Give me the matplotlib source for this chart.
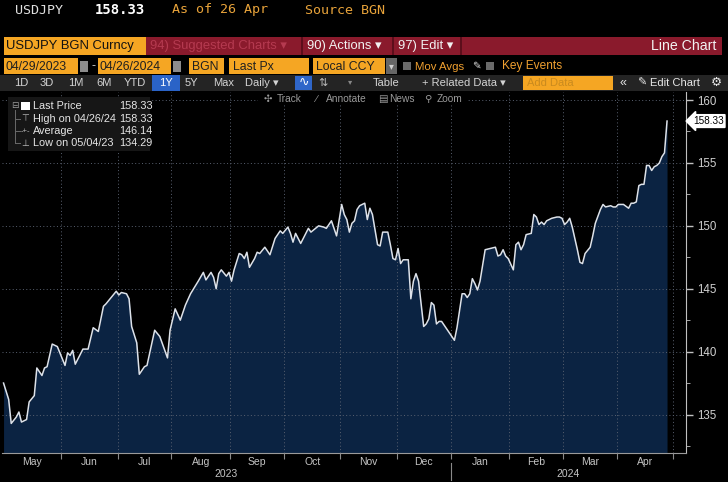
import numpy as np
import pandas as pd
import matplotlib
matplotlib.use('Agg')
import matplotlib.pyplot as plt
import matplotlib.transforms as mtransforms
from matplotlib.patches import Rectangle
from matplotlib.ticker import MultipleLocator

# USDJPY daily close (index = weekday number from 2023-05-01)
day_idx = [0, 2, 3, 5, 6, 7, 9, 10, 12, 13, 15, 16, 17, 19, 21,
           24, 25, 26, 27, 28, 31, 33, 35, 37, 39, 40, 44, 45,
           46, 48, 49, 50, 52, 53, 55, 56, 59, 61, 64, 65, 67,
           69, 71, 73, 76, 78, 79, 81, 82, 83, 84, 85, 87, 88, 89, 90,
           92, 93, 94, 95, 96, 98, 99, 100, 102, 104, 106, 108, 109,
           111, 112, 113, 114, 116, 119, 120, 123, 125, 126, 128, 130, 132, 133, 134,
           135, 136, 137, 138, 139, 141, 142, 143, 144, 146, 147, 148, 150, 151, 152,
           153, 154, 155, 156, 158, 159, 160, 161, 162, 164, 165, 166, 167, 168,
           169, 170, 171, 173, 176, 177, 179, 180, 181, 182, 183, 184, 185, 186,
           188, 190, 192, 193, 194, 195, 196, 197, 199, 200, 201, 202, 203,
           204, 206, 207, 208, 209, 210, 211, 212, 214, 216, 217, 218, 219, 220, 221, 222,
           224, 225, 226, 227, 229, 230, 231, 233, 234, 235, 237, 238, 239, 240,
           242, 244, 245, 246, 247, 248, 249, 250, 251, 252, 253, 254, 255, 256, 257, 258, 259]
prices = [137.5, 136.2, 134.29, 134.8, 135.2, 134.4, 134.6, 136.0, 136.5, 138.7, 138.1, 138.7, 138.8, 140.6, 140.4,
          138.9, 139.9, 139.7, 140.1, 139.0, 140.2, 140.2, 141.9, 141.6, 143.6, 143.8, 144.8, 144.5,
          144.7, 144.6, 144.2, 142.0, 140.7, 138.2, 138.8, 138.9, 141.7, 141.2, 139.5, 141.7, 143.4,
          142.5, 143.7, 144.6, 145.6, 146.3, 145.7, 146.3, 145.9, 145.0, 146.2, 146.5, 146.0, 146.3, 145.6, 146.5,
          147.8, 147.7, 147.4, 147.9, 146.7, 147.4, 147.9, 147.8, 148.3, 147.7, 149.0, 149.6, 149.4,
          149.9, 149.4, 148.7, 149.4, 148.6, 149.8, 149.5, 150.0, 149.9, 149.8, 150.4, 149.2, 151.7, 150.9, 150.5,
          149.5, 150.2, 150.4, 151.3, 151.6, 151.8, 150.5, 151.4, 150.9, 148.5, 148.4, 149.5, 149.5, 148.5, 147.4,
          147.3, 148.2, 147.0, 147.3, 147.3, 144.2, 145.6, 146.2, 145.6, 142.0, 142.2, 142.6, 143.9, 143.7,
          142.2, 142.4, 142.4, 141.8, 140.9, 141.9, 144.6, 144.6, 144.3, 144.6, 145.8, 145.4, 144.9, 145.6,
          148.1, 148.2, 148.3, 147.6, 147.7, 148.1, 147.6, 147.4, 146.5, 148.5, 148.7, 148.1, 148.5,
          149.3, 149.4, 150.9, 150.7, 150.1, 150.3, 150.1, 150.4, 150.6, 150.7, 150.7, 150.6, 150.1, 150.3, 150.6, 149.9,
          148.1, 147.1, 147.0, 147.8, 148.3, 149.2, 150.2, 151.3, 151.7, 151.5, 151.6, 151.5, 151.5, 151.7,
          151.7, 151.4, 151.8, 151.8, 151.9, 153.2, 153.3, 153.3, 154.8, 154.8, 154.4, 154.7, 154.8, 155.0, 155.5, 155.8, 158.33]
avg_price = 146.14
month_names = ['May', 'Jun', 'Jul', 'Aug', 'Sep', 'Oct', 'Nov', 'Dec', 'Jan', 'Feb', 'Mar', 'Apr']
years = ['2023', '2024']

bdays = pd.bdate_range('2023-05-01', '2024-05-31')
day_idx = np.array(day_idx)
prices = np.array(prices)
last = prices[-1]
last_date = bdays[day_idx[-1]]
hi_date = bdays[day_idx[np.argmax(prices)]]
lo_date = bdays[day_idx[np.argmin(prices)]]

# first weekday of each month -> boundary index
month_starts = pd.date_range('2023-05-01', '2024-05-01', freq='MS')
bounds = np.searchsorted(bdays, month_starts) - 0.5

ORANGE = '#f5a623'
UI = ['Liberation Sans', 'DejaVu Sans']
MONO = ['DejaVu Sans Mono']
W, H = 728, 482

fig = plt.figure(figsize=(W / 100, H / 100), dpi=100, facecolor='black')
ax = fig.add_axes([2 / W, (H - 453) / H, 684 / W, 361 / H], facecolor='black')

ybot = 131.94
ax.fill_between(day_idx, prices, ybot, color='#0b2342', lw=0, zorder=1)
ax.plot(day_idx, prices, color='#dde2ea', lw=1.1, zorder=3)
ax.set_xlim(-0.6, 266.4)
ax.set_ylim(ybot, 160.64)

ax.yaxis.tick_right()
ax.set_yticks(np.arange(135, 161, 5))
ax.yaxis.set_minor_locator(MultipleLocator(2.5))
ax.set_xticks(bounds[1:])
ax.set_xticklabels([])
centers = (bounds[:-1] + bounds[1:]) / 2
ax.set_xticks(centers, minor=True)
ax.set_xticklabels(month_names, minor=True)
ax.tick_params(axis='x', which='major', length=4, color='#8a8a8a', direction='out')
ax.tick_params(axis='x', which='minor', length=0, pad=3, labelsize=7.5, labelcolor='#c4c4c4')
ax.tick_params(axis='y', which='major', length=5, width=1, color='#c0c0c0', pad=3,
               labelsize=8.3, labelcolor='#d0d0d0')
ax.tick_params(axis='y', which='minor', length=3, color='#c0c0c0')
for lab in ax.get_xticklabels(minor=True) + ax.get_yticklabels():
    lab.set_family(UI)

ax.set_axisbelow(False)
ax.grid(True, which='major', color='#596170', lw=0.7, ls=(0, (1, 2.5)))
for side in ['left', 'top']:
    ax.spines[side].set_visible(False)
ax.spines['right'].set_color('#c0c0c0')
ax.spines['bottom'].set_color('#9a9a9a')

# year labels and separator under the month row
bt = mtransforms.blended_transform_factory(ax.transData, ax.transAxes)
jan = bounds[8]
ax.text((bounds[0] + jan) / 2, -0.058, years[0], transform=bt, ha='center', va='center',
        fontsize=7.5, color='#c4c4c4', family=UI)
ax.text((jan + ax.get_xlim()[1]) / 2, -0.058, years[1], transform=bt, ha='center', va='center',
        fontsize=7.5, color='#c4c4c4', family=UI)
ax.plot([jan, jan], [-0.028, -0.075], transform=bt, color='#8a8a8a', lw=0.8, clip_on=False)

# last price tag on the axis
ax.text(1.010, last, f'{last:.2f}', transform=ax.get_yaxis_transform(), ha='left', va='center',
        fontsize=7.2, color='black', family=UI,
        bbox=dict(boxstyle='larrow,pad=0.14', fc='white', ec='white'))

# ---- terminal header (pixel coordinates) ----
ui = fig.add_axes([0, 0, 1, 1], zorder=5)
ui.set_xlim(0, W)
ui.set_ylim(H, 0)
ui.axis('off')
ui.patch.set_alpha(0)


def R(x0, y0, x1, y1, c):
    ui.add_patch(Rectangle((x0, y0), x1 - x0, y1 - y0, color=c, lw=0))


def T(x, y, s, c='#d8d8d8', fs=8, ha='left', fam=UI, **kw):
    ui.text(x, y, s, color=c, fontsize=fs, ha=ha, va='center', family=fam, **kw)


T(15, 10, 'USDJPY', '#e0e0e0', 9.6, fam=MONO)
T(95, 10, f'{last:.2f}', 'white', 10, fam=MONO, weight='bold')
T(172, 10, 'As of ' + last_date.strftime('%d %b'), '#e8a33a', 9.6, fam=MONO)
T(305, 10, 'Source BGN', '#e8a33a', 9.6, fam=MONO)

R(4, 37, 146, 55, ORANGE)
T(6, 46.5, 'USDJPY BGN Curncy', '#111111', 9.4)
R(146, 37, 722, 55, '#8a1a2c')
for sx in [301, 392, 460]:
    R(sx, 37, sx + 2, 55, '#5c0e1b')
T(150, 46.5, '94) Suggested Charts ▾', '#b53a50', 9.4)
T(307, 46.5, '90) Actions ▾', '#f2f2f2', 9.4)
T(398, 46.5, '97) Edit ▾', '#f2f2f2', 9.4)
T(716, 46.5, 'Line Chart', '#f2f2f2', 10.2, ha='right')

R(4, 58, 78, 74, ORANGE)
T(6, 66.5, '04/29/2023', '#202020', 8.8)
R(80, 61, 88, 72, '#8c8c8c')
T(91, 66, '-', '#d0d0d0', 9)
R(98, 58, 171, 74, ORANGE)
T(100, 66.5, '04/26/2024', '#202020', 8.8)
R(173, 61, 181, 72, '#8c8c8c')
R(189, 58, 224, 74, ORANGE)
T(192, 66.5, 'BGN', '#202020', 8.8)
R(229, 58, 309, 74, ORANGE)
T(233, 66.5, 'Last Px', '#202020', 8.8)
R(313, 58, 385, 74, ORANGE)
T(316, 66.5, 'Local CCY', '#202020', 8.8)
R(386, 58, 397, 74, '#666666')
T(391.5, 66, '▾', '#d0d0d0', 7, ha='center')
R(403, 62, 411, 70, '#6a6a6a')
T(415, 66.5, 'Mov Avgs', '#f0a030', 8.2)
T(472, 66, '✎', '#e0e0e0', 7.5)
R(486, 62, 494, 70, '#6a6a6a')
T(502, 66.5, 'Key Events', '#f0a030', 8.6)

R(0, 75, W, 91, '#242424')
for bx, lab in [(14, '1D'), (40, '3D'), (68, '1M'), (96, '6M'), (124, 'YTD'), (185, '5Y'), (213, 'Max'),
                (245, 'Daily ▾'), (373, 'Table'), (422, '+ Related Data ▾')]:
    T(bx, 83, lab, '#d4d4d4', 8)
R(152, 75, 180, 91, '#2a63c7')
T(166, 83, '1Y', 'white', 8, ha='center')
R(295, 76, 312, 90, '#2f66c9')
T(303.5, 83, '∿', 'white', 9, ha='center')
T(318, 83, '⇅', '#bbbbbb', 8)
T(348, 83, '▾', '#888888', 6)
R(523, 76, 613, 90, ORANGE)
T(527, 83, 'Add Data', '#c98a1e', 8)
T(619, 83, '«', '#e8e8e8', 9)
T(637, 83, '✎', '#e8e8e8', 8)
T(650, 83, 'Edit Chart', '#e8e8e8', 8)
T(711, 83, '⚙', '#e8e8e8', 9)

R(258, 93, 468, 105, 'black')
for tx, lab in [(264, '✣'), (277, 'Track'), (315, '∕'), (326, 'Annotate'), (378, '▤'), (389, 'News'),
                (424, '⚲'), (437, 'Zoom')]:
    T(tx, 99, lab, '#9a9a9a', 7.3)

# legend panel
R(8, 97, 150, 151, '#161616')
ui.add_patch(Rectangle((21, 101.5), 8.5, 8.5, color='white', lw=0))
T(15, 105.5, '⊟', '#9a9a9a', 6.5, ha='center')
ui.plot([15, 15], [110, 143], color='#6a6a6a', lw=0.7)
for yy in [119, 131, 143]:
    ui.plot([15, 20], [yy, yy], color='#6a6a6a', lw=0.7)
T(25, 119, '⊤', '#bbbbbb', 6.5, ha='center')
T(25, 131, '-+-', '#bbbbbb', 5.5, ha='center')
T(25, 143, '⊥', '#bbbbbb', 6.5, ha='center')
rows = [('Last Price', last), ('High on ' + hi_date.strftime('%m/%d/%y'), prices.max()),
        ('Average', avg_price), ('Low on ' + lo_date.strftime('%m/%d/%y'), prices.min())]
for (lab, val), yy in zip(rows, [106, 119, 131, 143]):
    T(33, yy, lab, '#e6e6e6', 7.8)
    T(119, yy, f'{val:.2f}', '#e6e6e6', 7.8)

fig.savefig('out.png', dpi=100, facecolor='black')
